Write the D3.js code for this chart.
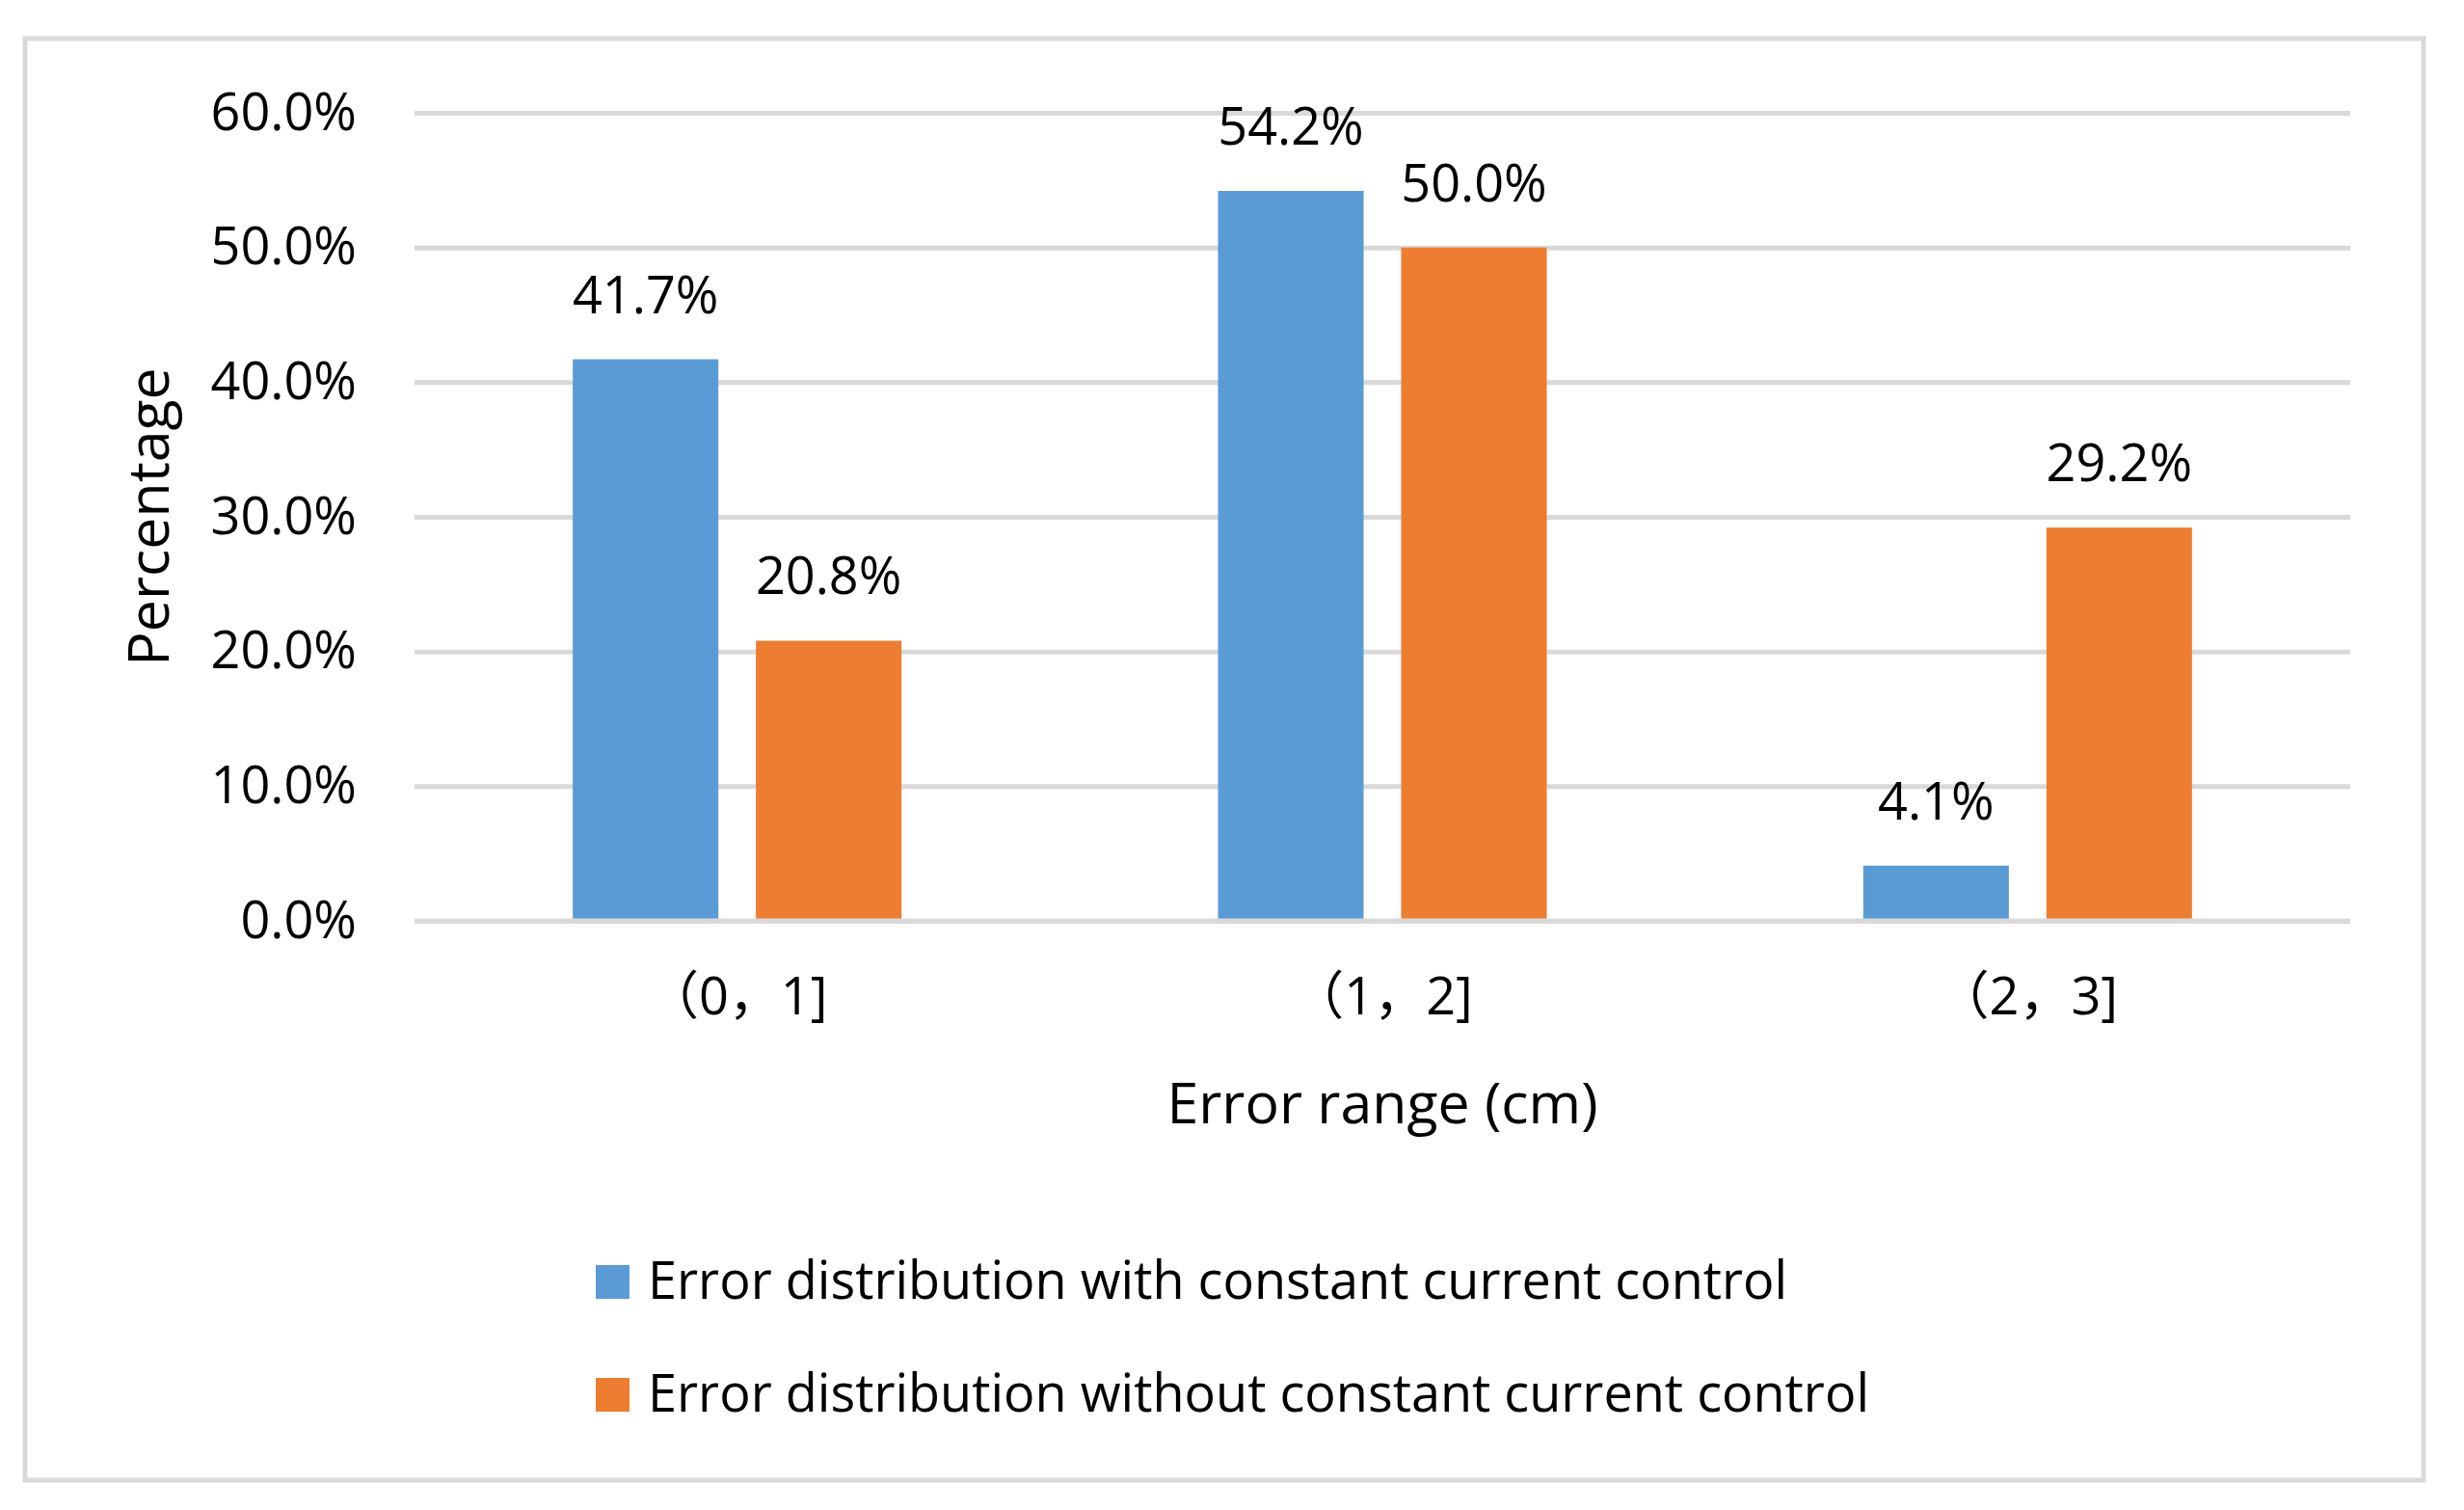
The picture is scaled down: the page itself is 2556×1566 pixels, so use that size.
<!DOCTYPE html>
<meta charset="utf-8">
<style>
body{
	margin:0;
	background:#fff;
}
text{
	font-family:"Open Sans","Noto Sans CJK SC",sans-serif;
	fill:#000;
}
.grid line{
	stroke:#d9d9d9;
	stroke-width:5px;
}
.grid .domain{
	display:none;
}
.grid text{
	font-size:54px;
}
.label{
	font-size:54px;
	text-anchor:middle;
}
.title{
	font-size:59px;
	text-anchor:middle;
}
.legend text{
	font-size:54px;
}
</style>
<body>
<script src="https://d3js.org/d3.v7.min.js"></script>
<script>
// data
var categories = ["（0，1]", "（1，2]", "（2，3]"];
var seriesNames = ["Error distribution with constant current control",
                   "Error distribution without constant current control"];
var withControl = [41.7, 54.2, 4.1];
var withoutControl = [20.8, 50.0, 29.2];
var yTicks = [0, 10, 20, 30, 40, 50, 60];
var colors = ["#5b9bd5", "#ed7d31"];

var W = 2556, H = 1566;
var plot = {left:430, right:2438, top:117, bottom:955};

var svg = d3.select("body").append("svg").attr("width", W).attr("height", H);

// outer frame
svg.append("rect")
	.attr("x", 26).attr("y", 40)
	.attr("width", 2514-26).attr("height", 1535-40)
	.attr("fill", "#fff")
	.attr("stroke", "#d9d9d9")
	.attr("stroke-width", 5);

var x0 = d3.scaleBand().domain(categories).range([plot.left, plot.right]);
var x1 = d3.scaleBand().domain([0, 1]).range([0, x0.bandwidth()])
	.paddingInner(0.205).paddingOuter(0.864);
var y = d3.scaleLinear().domain([0, 60]).range([plot.bottom, plot.top]);

// gridlines + tick labels
svg.append("g").attr("class", "grid")
	.attr("transform", "translate(" + plot.left + ",0)")
	.call(d3.axisLeft(y)
		.tickValues(yTicks)
		.tickSize(-(plot.right - plot.left))
		.tickPadding(60)
		.tickFormat(function(d){ return d3.format(".1f")(d) + "%"; }));

var rows = categories.map(function(c, i){
	return {cat:c, vals:[withControl[i], withoutControl[i]]};
});

var groups = svg.selectAll(".group").data(rows).enter().append("g")
	.attr("class", "group")
	.attr("transform", function(d){ return "translate(" + x0(d.cat) + ",0)"; });

groups.selectAll("rect").data(function(d){ return d.vals; }).enter().append("rect")
	.attr("x", function(d, i){ return x1(i); })
	.attr("y", function(d){ return y(d); })
	.attr("width", x1.bandwidth())
	.attr("height", function(d){ return y(0) - y(d); })
	.attr("fill", function(d, i){ return colors[i]; });

groups.selectAll(".label").data(function(d){ return d.vals; }).enter().append("text")
	.attr("class", "label")
	.attr("x", function(d, i){ return x1(i) + x1.bandwidth()/2; })
	.attr("y", function(d){ return y(d) - 48; })
	.text(function(d){ return d3.format(".1f")(d) + "%"; });

// zero line sits over the bars
svg.append("line")
	.attr("x1", plot.left).attr("x2", plot.right)
	.attr("y1", y(0)).attr("y2", y(0))
	.attr("stroke", "#d9d9d9").attr("stroke-width", 5);

// category labels
svg.selectAll(".cat").data(categories).enter().append("text")
	.attr("class", "label")
	.attr("x", function(d){ return x0(d) + x0.bandwidth()/2; })
	.attr("y", y(0) + 97)
	.text(function(d){ return d; });

// axis titles
svg.append("text").attr("class", "title")
	.attr("x", (plot.left + plot.right)/2).attr("y", 1165)
	.text("Error range (cm)");

svg.append("text").attr("class", "title")
	.attr("transform", "translate(175," + (plot.top + plot.bottom)/2 + ") rotate(-90)")
	.attr("font-size", "60px")
	.text("Percentage");

// legend
var legend = svg.append("g").attr("class", "legend");
var items = legend.selectAll("g").data(seriesNames).enter().append("g")
	.attr("transform", function(d, i){ return "translate(618," + (1312 + i*117) + ")"; });
items.append("rect")
	.attr("width", 35).attr("height", 35)
	.attr("fill", function(d, i){ return colors[i]; });
items.append("text")
	.attr("x", 54).attr("y", 35)
	.text(function(d){ return d; });
</script>
</body>
</html>
